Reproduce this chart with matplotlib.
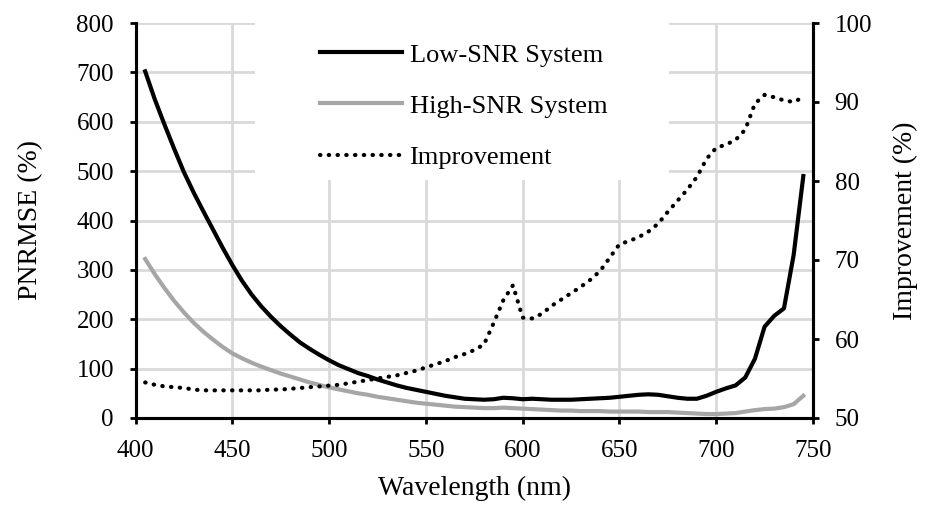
import matplotlib

matplotlib.use("Agg")
import matplotlib.pyplot as plt
from matplotlib.patches import Rectangle

plt.rcParams["font.family"] = ["Liberation Serif", "DejaVu Serif"]

wavelength = [
    405, 410, 415, 420, 425, 430, 435, 440, 445, 450,
    455, 460, 465, 470, 475, 480, 485, 490, 495, 500,
    505, 510, 515, 520, 525, 530, 535, 540, 545, 550,
    555, 560, 565, 570, 575, 580, 585, 590, 595, 600,
    605, 610, 615, 620, 625, 630, 635, 640, 645, 650,
    655, 660, 665, 670, 675, 680, 685, 690, 695, 700,
    705, 710, 715, 720, 725, 730, 735, 740, 745,
]

low_snr = [
    702, 645, 594, 545, 498, 457, 419, 382, 345, 310,
    278, 250, 226, 205, 186, 169, 153, 140, 128, 117,
    107, 99, 91, 85, 78, 72, 66, 61, 57, 53,
    49, 45, 42, 39, 38, 37, 38, 41, 40, 38,
    39, 38, 37, 37, 37, 38, 39, 40, 41, 43,
    45, 47, 48, 47, 44, 41, 39, 39, 45, 53,
    60, 66, 82, 120, 185, 207, 222, 330, 490,
]

high_snr = [
    322, 291, 263, 237, 214, 193, 175, 159, 144, 131,
    121, 112, 104, 97, 90, 84, 78, 72, 67, 62,
    58, 54, 50, 47, 43, 40, 37, 34, 31, 29,
    27, 25, 23, 22, 21, 20, 20, 21, 20, 19,
    18, 17, 16, 15, 15, 14, 14, 14, 13, 13,
    13, 13, 12, 12, 12, 11, 10, 9, 8, 8,
    9, 10, 13, 16, 18, 19, 22, 28, 45,
]

improvement = [
    54.5, 54.2, 54.0, 53.9, 53.8, 53.6, 53.5, 53.5, 53.5, 53.5,
    53.5, 53.5, 53.5, 53.6, 53.6, 53.7, 53.8, 53.9, 54.0, 54.1,
    54.2, 54.4, 54.6, 54.8, 55.0, 55.2, 55.4, 55.7, 56.0, 56.4,
    56.8, 57.2, 57.7, 58.1, 58.6, 59.3, 62.0, 64.9, 66.8, 62.7,
    62.6, 63.2, 64.2, 65.0, 65.8, 66.6, 67.5, 68.6, 70.3, 72.0,
    72.4, 72.9, 73.6, 74.6, 76.1, 77.5, 78.9, 80.5, 82.8, 84.2,
    84.6, 85.2, 86.5, 89.8, 90.9, 90.6, 90.2, 90.0, 90.6,
]

fig = plt.figure(figsize=(9.25, 5.13), dpi=100)
ax = fig.add_axes([135.5 / 925, 1 - 418 / 513, 677.5 / 925, 395 / 513])
ax2 = ax.twinx()

grid_col = "#d9d9d9"
ax.set_axisbelow(True)
ax.grid(True, color=grid_col, linewidth=2)

# white box behind the legend hides the grid
ax.add_patch(Rectangle((0.177, 0.602), 0.611, 0.42, transform=ax.transAxes,
                       facecolor="white", edgecolor="none", zorder=1, clip_on=False))

l1, = ax.plot(wavelength, low_snr, color="black", lw=3, zorder=3, label="Low-SNR System")
l2, = ax.plot(wavelength, high_snr, color="#a6a6a6", lw=3, zorder=2, label="High-SNR System")
l3, = ax2.plot(wavelength, improvement, color="black", lw=3, linestyle=(0, (0.1, 2)),
               dash_capstyle="round", label="Improvement")

ax.set_xlim(400, 750)
ax.set_ylim(0, 800)
ax2.set_ylim(50, 100)
ax.set_xticks(range(400, 751, 50))
ax.set_yticks(range(0, 801, 100))
ax2.set_yticks(range(50, 101, 10))

for a in (ax, ax2):
    for side in ("left", "right", "bottom"):
        a.spines[side].set_linewidth(2.2)
    a.spines["top"].set_visible(False)
    a.tick_params(direction="out", length=4.5, width=2, labelsize=18, pad=11)

ax.set_xlabel("Wavelength (nm)", fontsize=20, labelpad=10)
ax.set_ylabel("PNRMSE (%)", fontsize=20, labelpad=24)
ax2.set_ylabel("Improvement (%)", fontsize=20, labelpad=15)

ax2.legend(handles=[l1, l2, l3], loc="center left", bbox_to_anchor=(0.272, 0.79),
           frameon=False, fontsize=19, handlelength=3.1, handletextpad=0.3,
           labelspacing=1.05, borderpad=0, borderaxespad=0)

fig.savefig("out.png", dpi=100)
